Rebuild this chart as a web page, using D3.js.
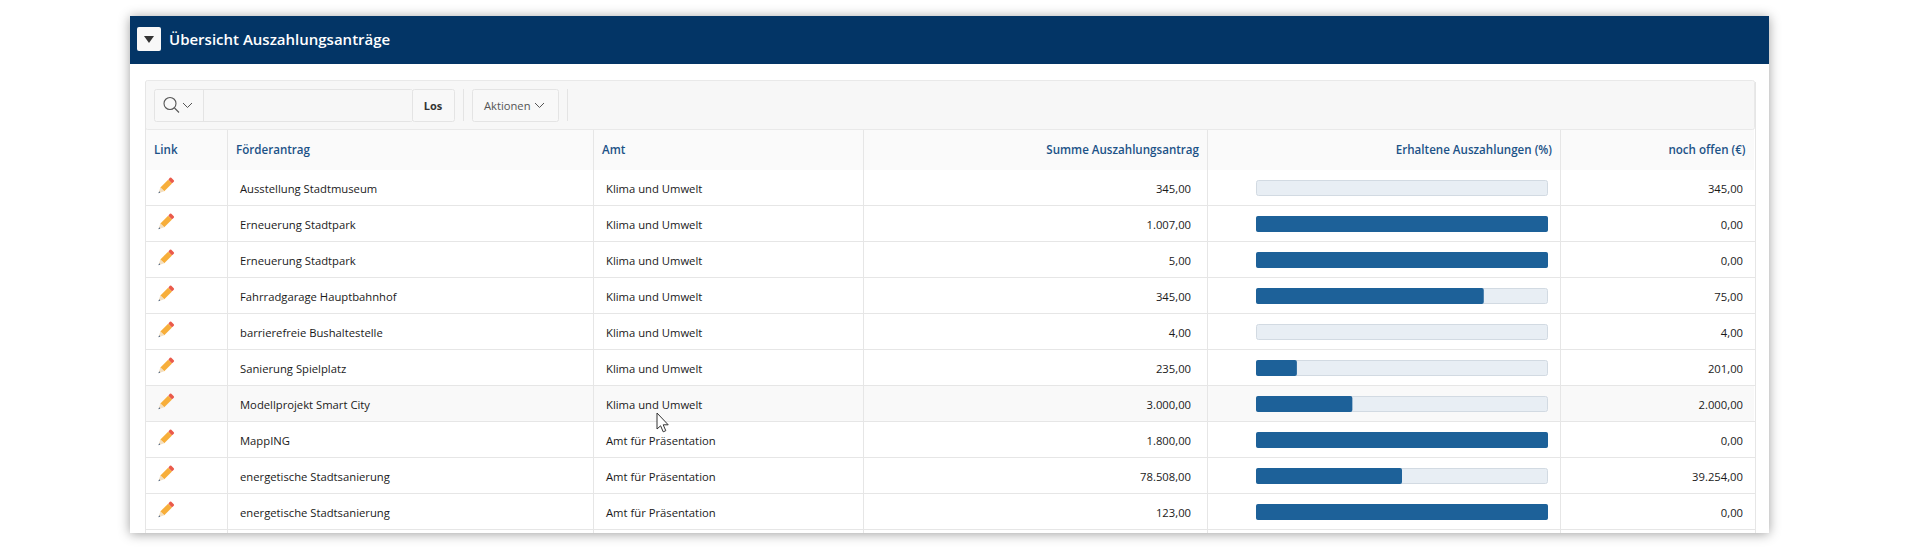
<!DOCTYPE html>
<html>
<head>
<meta charset="utf-8">
<script src="https://cdn.jsdelivr.net/npm/d3@7"></script>
<style>
html, body { margin: 0; padding: 0; background: #fff; overflow: hidden; }
svg { display: block; font-family: "Open Sans", sans-serif; }
</style>
</head>
<body>
<svg id="chart" width="1920" height="550"></svg>
<script>
const titel = "Übersicht Auszahlungsanträge";
const spalten = ["Link", "Förderantrag", "Amt", "Summe Auszahlungsantrag", "Erhaltene Auszahlungen (%)", "noch offen (€)"];
const antraege = ["Ausstellung Stadtmuseum", "Erneuerung Stadtpark", "Erneuerung Stadtpark", "Fahrradgarage Hauptbahnhof", "barrierefreie Bushaltestelle", "Sanierung Spielplatz", "Modellprojekt Smart City", "MappING", "energetische Stadtsanierung", "energetische Stadtsanierung"];
const aemter = ["Klima und Umwelt", "Klima und Umwelt", "Klima und Umwelt", "Klima und Umwelt", "Klima und Umwelt", "Klima und Umwelt", "Klima und Umwelt", "Amt für Präsentation", "Amt für Präsentation", "Amt für Präsentation"];
const summen = [345, 1007, 5, 345, 4, 235, 3000, 1800, 78508, 123];
const erhalten = [0, 100, 100, 78, 0, 14, 33, 100, 50, 100];
const offen = [345, 0, 0, 75, 4, 201, 2000, 0, 39254, 0];

const fmt = d3.formatLocale({ decimal: ",", thousands: ".", grouping: [3], currency: ["", " €"] }).format(",.2f");

const svg = d3.select("#chart");
const colX = [145, 227, 593, 863, 1207, 1560, 1755];
const lineColor = "#e6e6e6";
const headColor = "#1c5287";

const y = d3.scaleBand().domain(d3.range(antraege.length)).range([170, 530]);
const x = d3.scaleLinear().domain([0, 100]).range([1256, 1548]);

// panel with shadow
const defs = svg.append("defs");
defs.append("filter").attr("id", "shadow")
    .attr("x", "-5%").attr("y", "-10%").attr("width", "110%").attr("height", "120%")
    .append("feDropShadow")
    .attr("dx", 0).attr("dy", 1).attr("stdDeviation", 6)
    .attr("flood-color", "#000").attr("flood-opacity", 0.38);

svg.append("rect").attr("x", 130).attr("y", 16).attr("width", 1639).attr("height", 517)
    .attr("fill", "#fff").attr("filter", "url(#shadow)");
svg.append("rect").attr("x", 130).attr("y", 16).attr("width", 1639).attr("height", 48)
    .attr("fill", "#033566");

// collapse button
svg.append("rect").attr("x", 137).attr("y", 27).attr("width", 24).attr("height", 24)
    .attr("rx", 2).attr("fill", "#f8f8f8");
svg.append("path").attr("d", "M144 36h10l-5 7z").attr("fill", "#333");
svg.append("text").attr("x", 169).attr("y", 45).text(titel)
    .attr("fill", "#fff").style("font-size", "15px").style("font-weight", 600);

// toolbar
svg.append("rect").attr("x", 145.5).attr("y", 80.5).attr("width", 1609).attr("height", 49)
    .attr("rx", 2).attr("fill", "#f7f7f7").attr("stroke", "#e9e9e9");
const btn = (bx, bw) => svg.append("rect").attr("x", bx + 0.5).attr("y", 89.5).attr("width", bw).attr("height", 32)
    .attr("rx", 2).attr("fill", "#f8f8f8").attr("stroke", "#e4e4e4");
btn(154, 258);
svg.append("rect").attr("x", 204).attr("y", 90).attr("width", 208).attr("height", 31).attr("fill", "#f7f7f7");
svg.append("line").attr("x1", 203.5).attr("x2", 203.5).attr("y1", 90).attr("y2", 121).attr("stroke", "#e4e4e4");
btn(412, 42);
btn(472, 86);
[463.5, 567.5].forEach(s => svg.append("line").attr("x1", s).attr("x2", s).attr("y1", 89).attr("y2", 121).attr("stroke", "#e4e4e4"));

svg.append("circle").attr("cx", 170).attr("cy", 103.5).attr("r", 6).attr("fill", "none").attr("stroke", "#555").attr("stroke-width", 1.1);
svg.append("line").attr("x1", 174.5).attr("y1", 108).attr("x2", 179).attr("y2", 112.5).attr("stroke", "#555").attr("stroke-width", 1.1);
const chevron = cx => svg.append("path").attr("d", `M${cx - 4.5} 103l4.5 4.5l4.5 -4.5`).attr("fill", "none").attr("stroke", "#555");
chevron(187.5);
svg.append("text").attr("x", 433).attr("y", 109.5).attr("text-anchor", "middle").text("Los")
    .attr("fill", "#333").style("font-size", "11px").style("font-weight", 700);
svg.append("text").attr("x", 484).attr("y", 109.5).text("Aktionen")
    .attr("fill", "#555").style("font-size", "11.2px");
chevron(539.5);

// header row
svg.append("rect").attr("x", 146).attr("y", 130).attr("width", 1608).attr("height", 40).attr("fill", "#fafafa");
svg.append("rect").attr("x", 146).attr("y", y(6)).attr("width", 1608).attr("height", y.bandwidth()).attr("fill", "#f9f9f9");

const headX = [154, 236, 602, 1199, 1552, 1745.5];
svg.selectAll(".head").data(spalten).join("text").attr("class", "head")
    .attr("x", (d, i) => headX[i]).attr("y", 154)
    .attr("text-anchor", (d, i) => i > 2 ? "end" : "start")
    .text(d => d)
    .attr("fill", headColor).style("font-size", "11.6px").style("font-weight", 600);

// grid lines
svg.selectAll(".rowline").data(d3.range(antraege.length)).join("line").attr("class", "rowline")
    .attr("x1", 145).attr("x2", 1755)
    .attr("y1", d => y(d) + y.bandwidth() - 0.5).attr("y2", d => y(d) + y.bandwidth() - 0.5)
    .attr("stroke", lineColor);
svg.selectAll(".colline").data(colX).join("line").attr("class", "colline")
    .attr("x1", d => d + 0.5).attr("x2", d => d + 0.5)
    .attr("y1", (d, i) => (i === 0 || i === 6) ? 82 : 130).attr("y2", 533)
    .attr("stroke", lineColor);

// rows
const rows = svg.selectAll(".row").data(d3.range(antraege.length)).join("g").attr("class", "row")
    .attr("transform", i => `translate(0,${y(i)})`);

const textY = y.bandwidth() / 2 + 4.5;
const cell = (tx, anchor, fn) => rows.append("text")
    .attr("x", tx).attr("y", textY).attr("text-anchor", anchor)
    .text(fn).attr("fill", "#1a1a1a").style("font-size", "11.25px");

cell(240, "start", i => antraege[i]);
cell(606, "start", i => aemter[i]);
cell(1191, "end", i => fmt(summen[i]));
cell(1743, "end", i => fmt(offen[i]));

// progress bars
rows.append("rect").attr("x", x(0) + 0.5).attr("y", 10.5)
    .attr("width", x(100) - x(0) - 1).attr("height", 15).attr("rx", 2)
    .attr("fill", "#e8eef4").attr("stroke", "#d2dae2");
rows.filter(i => erhalten[i] > 0).append("rect")
    .attr("x", x(0)).attr("y", 10)
    .attr("width", i => x(erhalten[i]) - x(0))
    .attr("height", 16).attr("rx", 2).attr("fill", "#1d6199");

// pencil icons
const pencil = rows.append("g").attr("transform", "translate(166,16) rotate(45)");
pencil.append("rect").attr("x", -3).attr("y", -6).attr("width", 5.5).attr("height", 11).attr("fill", "#f7ae3a");
pencil.append("rect").attr("x", -3).attr("y", -9.5).attr("width", 5.5).attr("height", 3.5).attr("rx", 1).attr("fill", "#ea5a4a");
pencil.append("path").attr("d", "M-3 5h5.5l-2.75 5.5z").attr("fill", "#f3dfc0");
pencil.append("path").attr("d", "M-1 8.6h1.5l-.75 1.9z").attr("fill", "#3d5a80");

// mouse cursor
svg.append("path")
    .attr("d", "M657 413v16l3.6 -3.2l2.6 6l2.6 -1.1l-2.6 -5.9h5z")
    .attr("fill", "#fff").attr("stroke", "#333").attr("stroke-width", 1);
</script>
</body>
</html>
